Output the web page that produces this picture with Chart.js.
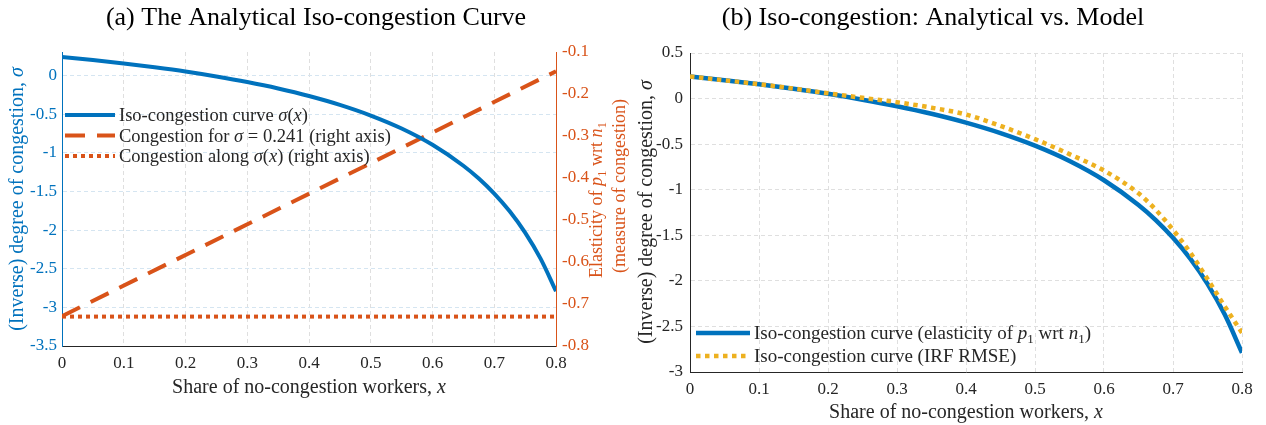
<!DOCTYPE html>
<html>
<head>
<meta charset="utf-8">
<script src="https://cdn.jsdelivr.net/npm/chart.js@4.4.1/dist/chart.umd.min.js"></script>
<style>
  body { margin: 0; background: #fff; }
  canvas { position: absolute; top: 0; }
  #chartA { left: 0; }
  #chartB { left: 628px; }
</style>
</head>
<body>
<canvas id="chartA" width="640" height="425"></canvas>
<canvas id="chartB" width="638" height="425"></canvas>
<script>
// valeurs
const shareX = [0, 0.05, 0.1, 0.15, 0.2, 0.25, 0.3, 0.35, 0.4, 0.45, 0.5, 0.55, 0.6, 0.65, 0.675, 0.7, 0.725, 0.75, 0.775, 0.8];
const sigmaAnalytical = [0.241, 0.201, 0.157, 0.107, 0.052, -0.012, -0.084, -0.167, -0.264, -0.379, -0.517, -0.685, -0.896, -1.167, -1.333, -1.528, -1.757, -2.033, -2.37, -2.79];
const sigmaModel = [0.241, 0.201, 0.158, 0.110, 0.058, 0.008, -0.040, -0.100, -0.175, -0.300, -0.445, -0.610, -0.790, -1.040, -1.22, -1.44, -1.69, -1.98, -2.28, -2.57];

const congX = [0, 0.8];
const congFixedSigma = [-0.729, -0.146];
const congAlongSigma = [-0.73, -0.73];

const xTicks = [0, 0.1, 0.2, 0.3, 0.4, 0.5, 0.6, 0.7, 0.8];
const sigmaTicksA = [-3.5, -3, -2.5, -2, -1.5, -1, -0.5, 0];
const elasTicks = [-0.8, -0.7, -0.6, -0.5, -0.4, -0.3, -0.2, -0.1];
const sigmaTicksB = [-3, -2.5, -2, -1.5, -1, -0.5, 0, 0.5];

const BLUE = '#0072BD';
const ORANGE = '#D95319';
const YELLOW = '#EDB120';
const DARK = '#262626';
const FAMILY = '"Liberation Serif", "DejaVu Serif", serif';

Chart.defaults.font.family = FAMILY;

const pts = (xs, ys) => xs.map((x, i) => ({ x: x, y: ys[i] }));
const setTicks = list => s => { s.ticks = list.map(v => ({ value: v })); };

// texte avec morceaux en italique / indice
function fontFor(st, size) {
    if (st === 'i') return 'italic ' + size + 'px ' + FAMILY;
    if (st === 's') return Math.round(size * 0.7) + 'px ' + FAMILY;
    return size + 'px ' + FAMILY;
}

function drawRich(ctx, parts, x, y, size, color, align, rot) {
    ctx.save();
    ctx.translate(x, y);
    if (rot) ctx.rotate(rot);
    ctx.fillStyle = color;
    ctx.textAlign = 'left';
    ctx.textBaseline = 'alphabetic';
    let w = 0;
    for (const [t, st] of parts) {
        ctx.font = fontFor(st, size);
        w += ctx.measureText(t).width;
    }
    let cx = align === 'left' ? 0 : -w / 2;
    const base = size * 0.33;
    for (const [t, st] of parts) {
        ctx.font = fontFor(st, size);
        ctx.fillText(t, cx, base + (st === 's' ? size * 0.2 : 0));
        cx += ctx.measureText(t).width;
    }
    ctx.restore();
}

function decor(spec) {
    return {
        id: 'decor',
        afterDraw(chart) {
            const ctx = chart.ctx;
            spec.texts.forEach(t => drawRich(ctx, t.parts, t.x, t.y, t.size, t.color, 'center', t.rot));
            const lg = spec.legend;
            lg.items.forEach((it, i) => {
                const ds = chart.data.datasets[it.ds];
                const y = lg.y + i * lg.rowH;
                ctx.save();
                ctx.strokeStyle = ds.borderColor;
                ctx.lineWidth = ds.borderWidth;
                ctx.setLineDash(ds.borderDash || []);
                ctx.beginPath();
                ctx.moveTo(lg.x, y);
                ctx.lineTo(lg.x + lg.len, y);
                ctx.stroke();
                ctx.restore();
                drawRich(ctx, it.parts, lg.x + lg.len + 4, y, lg.size, DARK, 'left', 0);
            });
        }
    };
}

const gridGray = { color: '#dfdfdf', lineWidth: 1, drawTicks: false };
const dash = [4, 3];
const tickFont = { size: 17 };

// (a)
new Chart(document.getElementById('chartA'), {
    type: 'line',
    data: {
        datasets: [{
            data: pts(shareX, sigmaAnalytical),
            yAxisID: 'yL',
            borderColor: BLUE,
            borderWidth: 4,
            pointRadius: 0,
            cubicInterpolationMode: 'monotone'
        }, {
            data: pts(congX, congFixedSigma),
            yAxisID: 'yR',
            borderColor: ORANGE,
            borderWidth: 4,
            borderDash: [20, 12],
            pointRadius: 0
        }, {
            data: pts(congX, congAlongSigma),
            yAxisID: 'yR',
            borderColor: ORANGE,
            borderWidth: 4,
            borderDash: [4, 4],
            pointRadius: 0
        }]
    },
    options: {
        responsive: false,
        animation: false,
        layout: { padding: { top: 52 } },
        plugins: { legend: { display: false }, tooltip: { enabled: false } },
        scales: {
            x: {
                type: 'linear', min: 0, max: 0.8,
                afterBuildTicks: setTicks(xTicks),
                afterFit: s => { s.height = 79; },
                grid: gridGray,
                border: { color: DARK, width: 1, dash: dash },
                ticks: { color: DARK, font: tickFont, padding: 7, maxRotation: 0, callback: v => String(v) }
            },
            yL: {
                type: 'linear', position: 'left', min: -3.5, max: 0.305,
                afterBuildTicks: setTicks(sigmaTicksA),
                afterFit: s => { s.width = 62; },
                grid: { color: '#d5e5f1', lineWidth: 1, drawTicks: false },
                border: { color: BLUE, width: 1, dash: dash },
                ticks: { color: BLUE, font: tickFont, padding: 5, callback: v => String(v) }
            },
            yR: {
                type: 'linear', position: 'right', min: -0.8, max: -0.1,
                afterBuildTicks: setTicks(elasTicks),
                afterFit: s => { s.width = 84; },
                grid: { drawOnChartArea: false, drawTicks: false },
                border: { color: ORANGE, width: 1 },
                ticks: { color: ORANGE, font: tickFont, padding: 6, callback: v => String(v) }
            }
        }
    },
    plugins: [decor({
        texts: [
            { parts: [['(a) The Analytical Iso-congestion Curve', '']], x: 316, y: 16, size: 26, color: '#000' },
            { parts: [['Share of no-congestion workers, ', ''], ['x', 'i']], x: 309, y: 386, size: 20, color: DARK },
            { parts: [['(Inverse) degree of congestion, ', ''], ['σ', 'i']], x: 16, y: 199, size: 20, color: BLUE, rot: -Math.PI / 2 },
            { parts: [['Elasticity of ', ''], ['p', 'i'], ['1', 's'], [' wrt ', ''], ['n', 'i'], ['1', 's']], x: 596, y: 200, size: 18, color: ORANGE, rot: -Math.PI / 2 },
            { parts: [['(measure of congestion)', '']], x: 619, y: 186, size: 18, color: ORANGE, rot: -Math.PI / 2 }
        ],
        legend: {
            x: 65, y: 115, rowH: 20.5, len: 50, size: 18.5,
            items: [
                { ds: 0, parts: [['Iso-congestion curve ', ''], ['σ', 'i'], ['(', ''], ['x', 'i'], [')', '']] },
                { ds: 1, parts: [['Congestion for ', ''], ['σ', 'i'], [' = 0.241 (right axis)', '']] },
                { ds: 2, parts: [['Congestion along ', ''], ['σ', 'i'], ['(', ''], ['x', 'i'], [') (right axis)', '']] }
            ]
        }
    })]
});

// (b)
new Chart(document.getElementById('chartB'), {
    type: 'line',
    data: {
        datasets: [{
            data: pts(shareX, sigmaAnalytical),
            borderColor: BLUE,
            borderWidth: 4.5,
            pointRadius: 0,
            cubicInterpolationMode: 'monotone',
            order: 1
        }, {
            data: pts(shareX, sigmaModel),
            borderColor: YELLOW,
            borderWidth: 4.5,
            borderDash: [4.5, 4.5],
            pointRadius: 0,
            cubicInterpolationMode: 'monotone',
            order: 0
        }]
    },
    options: {
        responsive: false,
        animation: false,
        layout: { padding: { top: 53, right: 24 } },
        plugins: { legend: { display: false }, tooltip: { enabled: false } },
        scales: {
            x: {
                type: 'linear', min: 0, max: 0.8,
                afterBuildTicks: setTicks(xTicks),
                afterFit: s => { s.height = 53; },
                grid: gridGray,
                border: { color: DARK, width: 1, dash: dash },
                ticks: { color: DARK, font: tickFont, padding: 7, maxRotation: 0, callback: v => String(v) }
            },
            y: {
                type: 'linear', position: 'left', min: -3, max: 0.5,
                afterBuildTicks: setTicks(sigmaTicksB),
                afterFit: s => { s.width = 62; },
                grid: gridGray,
                border: { color: DARK, width: 1, dash: dash },
                ticks: { color: DARK, font: tickFont, padding: 7, callback: v => String(v) }
            }
        }
    },
    plugins: [decor({
        texts: [
            { parts: [['(b) Iso-congestion: Analytical vs. Model', '']], x: 305, y: 16, size: 26, color: '#000' },
            { parts: [['Share of no-congestion workers, ', ''], ['x', 'i']], x: 338, y: 411, size: 20, color: DARK },
            { parts: [['(Inverse) degree of congestion, ', ''], ['σ', 'i']], x: 17, y: 212, size: 20, color: DARK, rot: -Math.PI / 2 }
        ],
        legend: {
            x: 68, y: 333, rowH: 23, len: 54, size: 19,
            items: [
                { ds: 0, parts: [['Iso-congestion curve (elasticity of ', ''], ['p', 'i'], ['1', 's'], [' wrt ', ''], ['n', 'i'], ['1', 's'], [')', '']] },
                { ds: 1, parts: [['Iso-congestion curve (IRF RMSE)', '']] }
            ]
        }
    })]
});
</script>
</body>
</html>
